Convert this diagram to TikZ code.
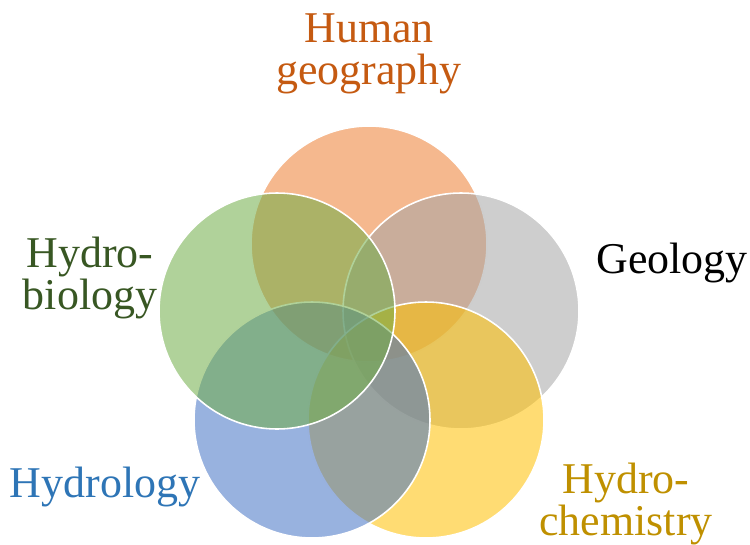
\documentclass[tikz,border=0pt]{standalone}
\usepackage{fontspec}
\setmainfont{Liberation Serif}
\usepackage{xcolor}
\definecolor{humanorange}{HTML}{ED7D31}
\definecolor{geogrey}{HTML}{A5A5A5}
\definecolor{chemgold}{HTML}{FFC000}
\definecolor{hydroblue}{HTML}{4472C4}
\definecolor{biogreen}{HTML}{70AD47}
\definecolor{humantext}{HTML}{C55A11}
\definecolor{chemtext}{HTML}{BF9000}
\definecolor{hydrotext}{HTML}{2E75B6}
\definecolor{biotext}{HTML}{385723}
\usepackage{tikz}
\usetikzlibrary{positioning}

\begin{document}
\begin{tikzpicture}[x=0.02cm, y=0.02cm]

        % Definição dos estilos visuais
        \tikzstyle{disc} = [circle, minimum size=4.72cm, inner sep=0pt, draw=white, line width=0.9pt, fill opacity=0.55, draw opacity=1]
        \tikzstyle{field} = [align=center, inner sep=0pt, font=\fontsize{25}{24}\selectfont]

        % Moldura da figura
        \useasboundingbox (0,0) rectangle (750,-544);

        % Círculos (pentágono em volta do centro comum)
        \node [disc, fill=humanorange] (human) at (369,-244) {};
        \node [disc, fill=geogrey] (geology) at (461,-311) {};
        \node [disc, fill=chemgold] (chem) at (426,-420) {};
        \node [disc, fill=hydroblue] (hydro) at (312,-420) {};
        \node [disc, fill=biogreen] (bio) at (277,-311) {};

        % ---------------------------------------------------------
        % Rótulos das áreas
        % ---------------------------------------------------------
        \node [field, text=humantext] (humanlabel) at (369,-54) {Human\\geography};
        \node [field, anchor=base] (geolabel) at (672,-273) {Geology};
        \node [field, text=chemtext] (chemlabel) at (626,-504) {Hydro-\\chemistry};
        \node [field, text=hydrotext, anchor=base] (hydrolabel) at (105,-497) {Hydrology};
        \node [field, text=biotext] (biolabel) at (90,-278) {Hydro-\\biology};
    \end{tikzpicture}
\end{document}
